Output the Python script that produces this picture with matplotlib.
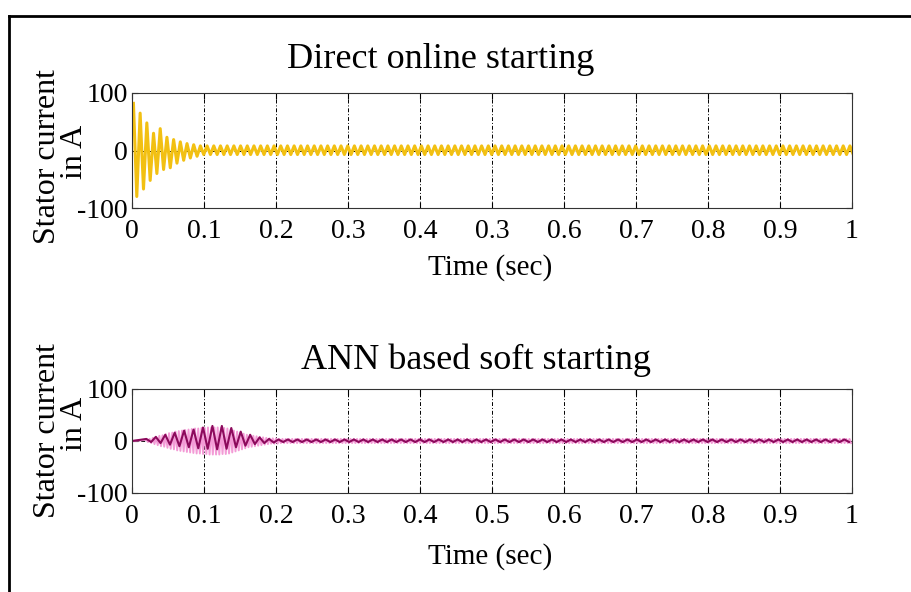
import numpy as np
import matplotlib
matplotlib.use("Agg")
import matplotlib.pyplot as plt
from matplotlib.lines import Line2D

plt.rcParams["font.family"] = ["Liberation Serif", "DejaVu Serif"]

# x axis ticks (top panel has "0.3" printed where 0.5 should be)
x_ticks = [0, 0.1, 0.2, 0.3, 0.4, 0.5, 0.6, 0.7, 0.8, 0.9, 1.0]
top_tick_labels = ["0", "0.1", "0.2", "0.3", "0.4", "0.3", "0.6", "0.7", "0.8", "0.9", "1"]
bot_tick_labels = ["0", "0.1", "0.2", "0.3", "0.4", "0.5", "0.6", "0.7", "0.8", "0.9", "1"]
y_ticks = [-100, 0, 100]
y_tick_labels = ["-100", "0", "100"]

# Direct online starting: peak values per cycle (A)
dol_start = 0.002
dol_period = 0.0093
dol_pos_transient = [82, 65, 48, 30, 38, 23, 19, 15, 12, 10]
dol_neg_transient = [-80, -67, -52, -40, -33, -30, -22, -17, -13, -10]
dol_pos_steady = 8
dol_neg_steady = -7

# ANN soft starting: current is zero until ~0.02 s
ann_start = 0.02
# light pink phase, peak per cycle
pink_period = 0.0045
pink_amp_transient = [2, 4, 6, 8, 10, 11, 13, 15, 16, 18, 19, 20, 21, 22, 23, 24,
                      24, 25, 25, 26, 26, 26, 26, 25, 25, 24, 22, 20, 18, 16, 14,
                      12, 11, 10, 9, 8, 7, 6, 5, 5, 5]
pink_amp_steady = 4
# dark magenta phase, peak per cycle
dark_period = 0.0131
dark_pos_transient = [4, 8, 12, 16, 20, 22, 26, 29, 29, 25, 18, 12, 7, 4]
dark_neg_transient = [-2, -4, -7, -10, -12, -14, -15, -16, -15, -12, -9, -6, -4, -3]
dark_pos_steady = 3
dark_neg_steady = -2


def zigzag(t0, period, pos, neg):
    t, y = [], []
    for k, (p, n) in enumerate(zip(pos, neg)):
        t += [t0 + k * period, t0 + (k + 0.5) * period]
        y += [p, n]
    return t, y


def peaks(transient, steady, t0, period):
    n = int((1.0 - t0) / period) + 1
    return list(transient) + [steady] * (n - len(transient))


dol_t, dol_y = zigzag(dol_start, dol_period,
                      peaks(dol_pos_transient, dol_pos_steady, dol_start, dol_period),
                      peaks(dol_neg_transient, dol_neg_steady, dol_start, dol_period))

pink_a = peaks(pink_amp_transient, pink_amp_steady, ann_start, pink_period)
pink_t, pink_y = zigzag(ann_start, pink_period, pink_a, [-a for a in pink_a])
pink_t = [0.0] + pink_t
pink_y = [0.0] + pink_y

dark_t, dark_y = zigzag(ann_start, dark_period,
                        peaks(dark_pos_transient, dark_pos_steady, ann_start, dark_period),
                        peaks(dark_neg_transient, dark_neg_steady, ann_start, dark_period))
dark_t = [0.0] + dark_t
dark_y = [0.0] + dark_y

W, H = 912, 592
fig = plt.figure(figsize=(W / 100, H / 100), dpi=100)

ax1 = fig.add_axes([132 / W, 1 - 208 / H, 720 / W, 115 / H])
ax2 = fig.add_axes([132 / W, 1 - 493 / H, 720 / W, 104 / H])

ax1.plot(dol_t, dol_y, color="#f2c012", lw=2.2)
ax2.plot(pink_t, pink_y, color="#f39bd6", lw=1.4)
ax2.plot(dark_t, dark_y, color="#8c0a5c", lw=1.5)

for ax, labels in [(ax1, top_tick_labels), (ax2, bot_tick_labels)]:
    ax.set_xlim(0, 1)
    ax.set_ylim(-100, 100)
    ax.set_xticks(x_ticks)
    ax.set_xticklabels(labels)
    ax.set_yticks(y_ticks)
    ax.set_yticklabels(y_tick_labels)
    ax.tick_params(direction="in", top=True, right=True, length=4, labelsize=20)
    ax.tick_params(axis="x", pad=8)
    ax.tick_params(axis="y", pad=3)
    ax.grid(True, color="black", lw=0.7, linestyle=(0, (4, 2, 1, 2)))
    for s in ax.spines.values():
        s.set_linewidth(0.8)
        s.set_color("#333333")

fig.text(441 / W, 1 - 60 / H, "Direct online starting", fontsize=26,
         ha="center", va="center")
fig.text(476 / W, 1 - 360 / H, "ANN based soft starting", fontsize=26,
         ha="center", va="center")
fig.text(490 / W, 1 - 268 / H, "Time (sec)", fontsize=21, ha="center", va="center")
fig.text(490 / W, 1 - 557 / H, "Time (sec)", fontsize=21, ha="center", va="center")

# two-line y labels, each line placed on its own
for yc_main, yc_unit in [(157, 152), (431, 424)]:
    fig.text(48 / W, 1 - yc_main / H, "Stator current", fontsize=23, rotation=90,
             ha="center", va="center")
    fig.text(75 / W, 1 - yc_unit / H, "in A", fontsize=23, rotation=90,
             ha="center", va="center")

# outer frame (open at right and bottom)
fig.add_artist(Line2D([9 / W, 9 / W], [0, 1 - 16 / H], color="black", lw=2))
fig.add_artist(Line2D([9 / W, 1], [1 - 16 / H, 1 - 16 / H], color="black", lw=2))

fig.savefig("out.png", dpi=100, facecolor="white")
